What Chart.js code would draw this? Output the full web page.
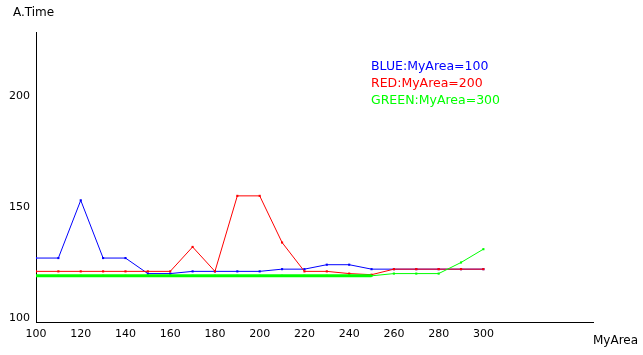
<!DOCTYPE html>
<html>
<head>
<meta charset="utf-8">
<script src="https://cdn.jsdelivr.net/npm/chart.js@4.4.1/dist/chart.umd.min.js"></script>
<style>
html,body{margin:0;padding:0;background:#fff;}
#wrap{width:643px;height:355px;position:relative;}
</style>
</head>
<body>
<div id="wrap"><canvas id="c" width="643" height="355"></canvas></div>
<script>
const myArea = [100,110,120,130,140,150,160,170,180,190,200,210,220,230,240,250,260,270,280,290,300];
const blueTime  = [127,127,153,127,127,120,120,121,121,121,121,122,122,124,124,122,122,122,122,122,122];
const redTime   = [121,121,121,121,121,121,121,132,121,155,155,134,121,121,120,119.5,122,122,122,122,122];
const greenTime = [119,119,119,119,119,119,119,119,119,119,119,119,119,119,119,119,120,120,120,125,131];
const xTicks = [100,120,140,160,180,200,220,240,260,280,300];
const yTicks = [100,150,200];
const legendLines = ['BLUE:MyArea=100','RED:MyArea=200','GREEN:MyArea=300'];
const legendColors = ['#0000ff','#ff0000','#00ff00'];

const FONT = 'DejaVu Sans';

function pts(ys){ return myArea.map((x,i)=>({x:x,y:ys[i]})); }

const textPlugin = {
  id:'texts',
  afterDraw(chart){
    const ctx = chart.ctx;
    ctx.save();
    ctx.textBaseline = 'alphabetic';
    ctx.textAlign = 'left';
    ctx.fillStyle = '#000';
    ctx.font = '12px "' + FONT + '"';
    ctx.fillText('A.Time', 13, 16);
    ctx.fillText('MyArea', 593, 344);
    ctx.font = '12.5px "' + FONT + '"';
    legendLines.forEach((t,i)=>{
      ctx.fillStyle = legendColors[i];
      ctx.fillText(t, 371, 70 + i*17);
    });
    ctx.restore();
  }
};

new Chart(document.getElementById('c'), {
  type:'line',
  data:{
    datasets:[
      {data:pts(blueTime), borderColor:'#0000ff', backgroundColor:'#0000ff', order:2},
      {data:pts(redTime), borderColor:'#ff0000', backgroundColor:'#ff0000', order:1},
      {data:pts(greenTime), borderColor:'#00ff00', backgroundColor:'#00ff00', order:0,
        segment:{borderWidth: c => (c.p1.parsed.x <= 250 ? 3 : 1)}}
    ]
  },
  options:{
    responsive:false,
    animation:false,
    devicePixelRatio:1,
    layout:{padding:{top:32,right:50,left:0,bottom:0}},
    elements:{
      line:{borderWidth:1, tension:0},
      point:{pointStyle:'rect', radius:1.5, borderWidth:0, hoverRadius:1.5}
    },
    plugins:{legend:{display:false}, tooltip:{enabled:false}},
    scales:{
      x:{
        type:'linear', min:100, max:349,
        grid:{display:false, drawTicks:false},
        border:{display:true, color:'#000', width:1},
        afterBuildTicks(s){ s.ticks = xTicks.map(v=>({value:v})); },
        afterFit(s){ s.height = 33; },
        ticks:{color:'#000', font:{family:FONT, size:11}, padding:6, maxRotation:0, autoSkip:false}
      },
      y:{
        type:'linear', min:98.2, max:228.8,
        grid:{display:false, drawTicks:false},
        border:{display:true, color:'#000', width:1},
        afterBuildTicks(s){ s.ticks = yTicks.map(v=>({value:v})); },
        afterFit(s){ s.width = 36; },
        ticks:{color:'#000', font:{family:FONT, size:11}, padding:6}
      }
    }
  },
  plugins:[textPlugin]
});
</script>
</body>
</html>
